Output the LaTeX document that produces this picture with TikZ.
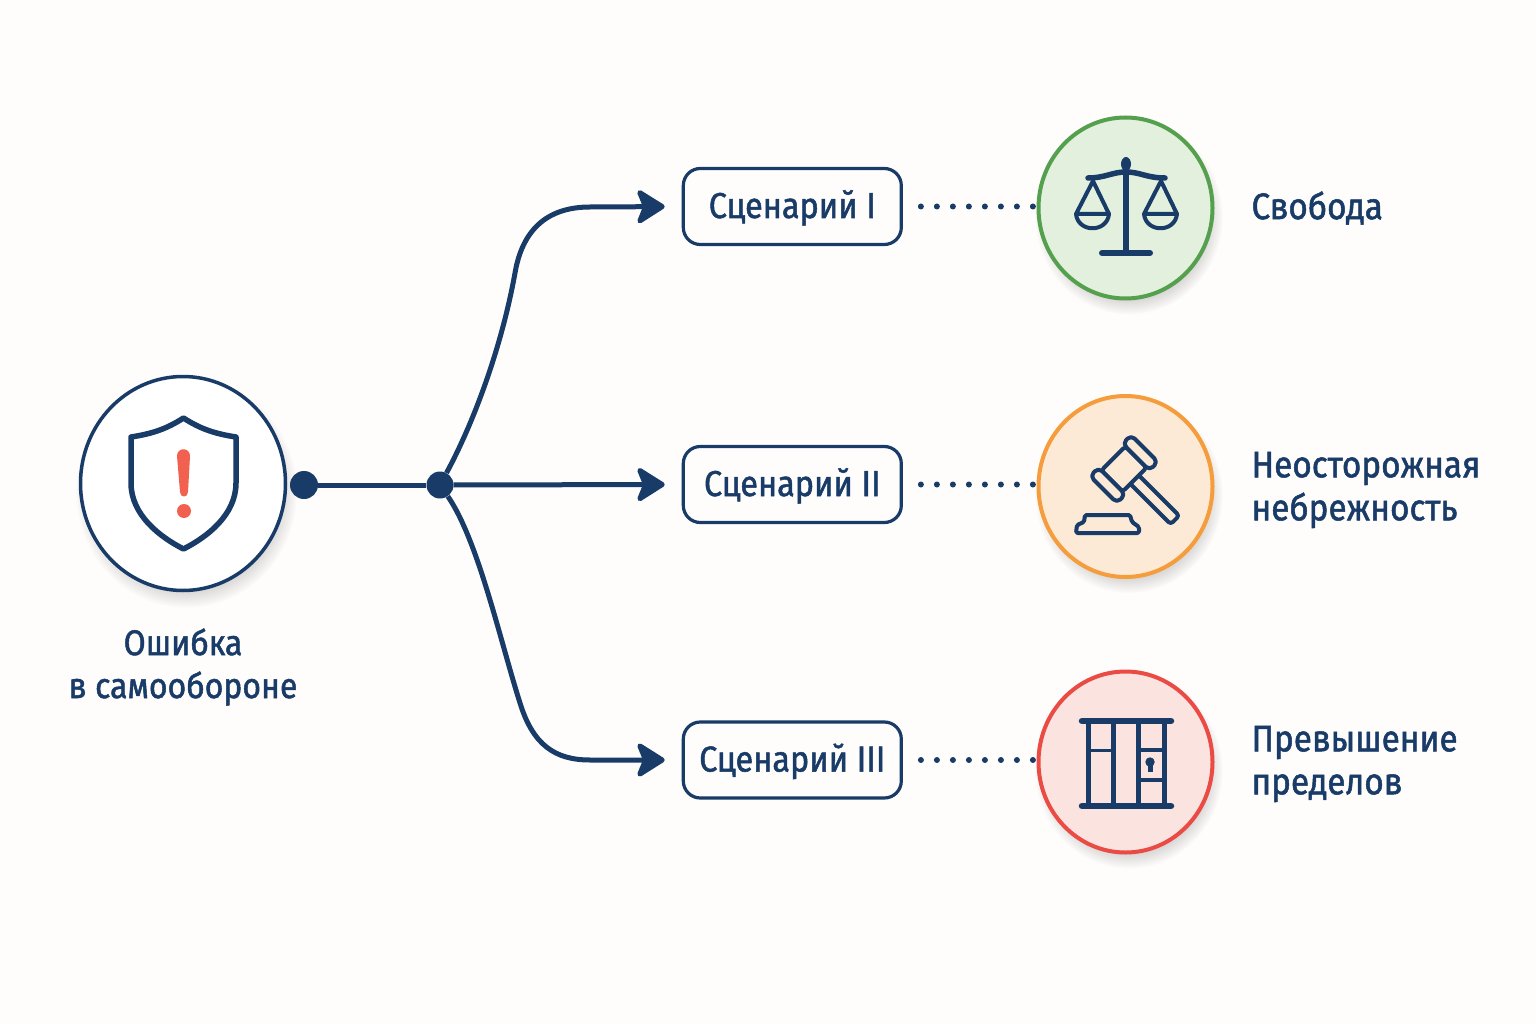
\documentclass[tikz,border=0pt]{standalone}
\usepackage{fontspec}
\setmainfont[FakeStretch=0.9,FakeBold=1.4]{Fira Sans}
\usetikzlibrary{arrows.meta, shadows, shapes.geometric}
\definecolor{NavyInk}{HTML}{183B68}
\definecolor{PaperBg}{HTML}{FEFDFB}
\definecolor{AlertRed}{HTML}{F2604F}
\definecolor{GreenLine}{HTML}{55A04F}
\definecolor{GreenFill}{HTML}{E2F0DD}
\definecolor{OrangeLine}{HTML}{F59C3C}
\definecolor{OrangeFill}{HTML}{FDEAD6}
\definecolor{RedLine}{HTML}{EA4B44}
\definecolor{RedFill}{HTML}{FBE4E0}
\begin{document}
\begin{tikzpicture}[
  x=1pt, y=-1pt,
  softshadow/.style={circular drop shadow={shadow xshift=3pt, shadow yshift=-8pt,
    shadow scale=1.08, opacity=0.24, fill=black!60}},
  badge/.style={ellipse, minimum width=174pt, minimum height=181pt, inner sep=0pt, line width=4pt, softshadow},
  scenario/.style={rectangle, rounded corners=17pt, draw=NavyInk, line width=3.2pt, fill=PaperBg,
    minimum width=218pt, minimum height=76pt, font=\fontsize{36}{40}\selectfont, text=NavyInk,
    text height=30pt, text depth=7pt},
  caption/.style={font=\fontsize{37}{43}\selectfont, text=NavyInk, align=left, anchor=west},
  joint/.style={circle, fill=NavyInk, inner sep=0pt},
  link/.style={-{Stealth[length=32pt, width=40pt, inset=8pt, round]}, line width=5pt, NavyInk, shorten >=17pt},
  dots/.style={line width=6pt, NavyInk, line cap=round, dash pattern=on 0pt off 16pt, shorten <=18pt},
  icon/.style={draw=NavyInk, line width=5pt, line cap=round, line join=round},
  thinicon/.style={draw=NavyInk, line width=4pt, line join=round, rounded corners=3pt}
]
\useasboundingbox (0,0) rectangle (1536,1024);
\fill[PaperBg] (0,0) rectangle (1536,1024);

% left side
\node[ellipse, minimum width=205pt, minimum height=214pt, inner sep=0pt, draw=NavyInk, line width=3.5pt, fill=white, softshadow] (err) at (183,483.5) {};
\node[joint, minimum size=28pt] (hub) at (304,485) {};
\node[joint, minimum size=27pt] (fork) at (440,485) {};
\node[font=\fontsize{35.5}{43}\selectfont, text=NavyInk, align=center] (errtext) at (183,667) {Ошибка\\в самообороне};

% scenarios
\node[scenario] (s1) at (792.3,206.5) {Сценарий I};
\node[scenario] (s2) at (792.3,484.5) {Сценарий II};
\node[scenario] (s3) at (792.3,760) {Сценарий III};

\draw[dots] (s1.east)--(1040,206.5);
\draw[dots] (s2.east)--(1040,484.5);
\draw[dots] (s3.east)--(1040,760);

% outcomes
\node[badge, draw=GreenLine, fill=GreenFill] (c1) at (1125.5,208) {};
\node[badge, draw=OrangeLine, fill=OrangeFill] (c2) at (1125.5,486.5) {};
\node[badge, draw=RedLine, fill=RedFill] (c3) at (1125.5,762) {};

\node[caption] (t1) at (1248,208) {Свобода};
\node[caption] (t2) at (1248,490) {Неосторожная\\небрежность};
\node[caption] (t3) at (1248,764) {Превышение\\пределов};

% connectors
\draw[line width=5pt, NavyInk] (hub)--(fork);
\draw[link] (fork)--(s2.west);
\draw[link] (fork) .. controls (475,420) and (502,345) .. (515,273)
  .. controls (522,232) and (545,207) .. (590,207) -- (s1.west);
\draw[link] (fork) .. controls (478,540) and (500,640) .. (520,703)
  .. controls (533,745) and (555,760) .. (590,760) -- (s3.west);

% shield
\draw[icon, line width=5.5pt] (183.5,418) .. controls (165,430) and (150,434) .. (131,437)
  -- (131,483) .. controls (131,515) and (160,537) .. (183.5,549)
  .. controls (207,537) and (236,515) .. (236,483) -- (236,437)
  .. controls (217,434) and (202,430) .. (183.5,418) -- cycle;
\fill[AlertRed] (177,456) .. controls (177,447) and (190,447) .. (190,456) -- (188,492)
  .. controls (188,498) and (180,498) .. (180,492) -- cycle;
\fill[AlertRed] (184,511) circle[radius=7];

% scales
\draw[icon, line width=6pt] (1126,165)--(1126,252);
\fill[NavyInk] (1126,164) ellipse[x radius=5, y radius=7];
\draw[icon, line width=6pt] (1102,253)--(1150,253);
\draw[icon, line width=5.5pt] (1088,178) .. controls (1105,178) and (1112,172) .. (1126,172)
  .. controls (1140,172) and (1147,178) .. (1165,178);
\draw[icon, line width=4pt] (1076,214)--(1093,181)--(1109,214)--(1076,214)
  .. controls (1078,233) and (1107,233) .. (1109,214);
\draw[icon, line width=4pt] (1144,214)--(1161,181)--(1177,214)--(1144,214)
  .. controls (1146,233) and (1175,233) .. (1177,214);

% gavel
\begin{scope}[shift={(1124,469)}, rotate=-45]
  \draw[thinicon, fill=OrangeFill] (14,-6) rectangle (72,6);
  \draw[thinicon, fill=OrangeFill] (-15,-17) rectangle (15,17);
  \draw[thinicon, fill=OrangeFill, rounded corners=5pt] (-19,17) rectangle (19,29);
  \draw[thinicon, fill=OrangeFill, rounded corners=5pt] (-19,-29) rectangle (19,-17);
\end{scope}
\draw[thinicon, rounded corners=1.5pt] (1076,533)--(1077,525)--(1084,522)--(1085,515)--(1130,515)--(1132,522)--(1139,527)--(1139,533)--cycle;

% cell
\foreach \xbar in {1088,1113,1138,1164}
  \draw[icon, line cap=butt] (\xbar,721)--(\xbar,806);
\draw[icon, line width=6.5pt] (1082,721)--(1171,721);
\draw[icon, line width=6.5pt] (1082,806)--(1171,806);
\draw[icon, line width=3pt, line cap=butt] (1090,750)--(1111,750);
\draw[icon, line width=4pt, line cap=butt] (1138,750)--(1164,750);
\draw[icon, line width=4pt, line cap=butt] (1138,780)--(1164,780);
\fill[NavyInk] (1150,762) circle[radius=4.7];
\draw[icon, line width=5pt, line cap=butt] (1150,762)--(1150,772);

\end{tikzpicture}
\end{document}
